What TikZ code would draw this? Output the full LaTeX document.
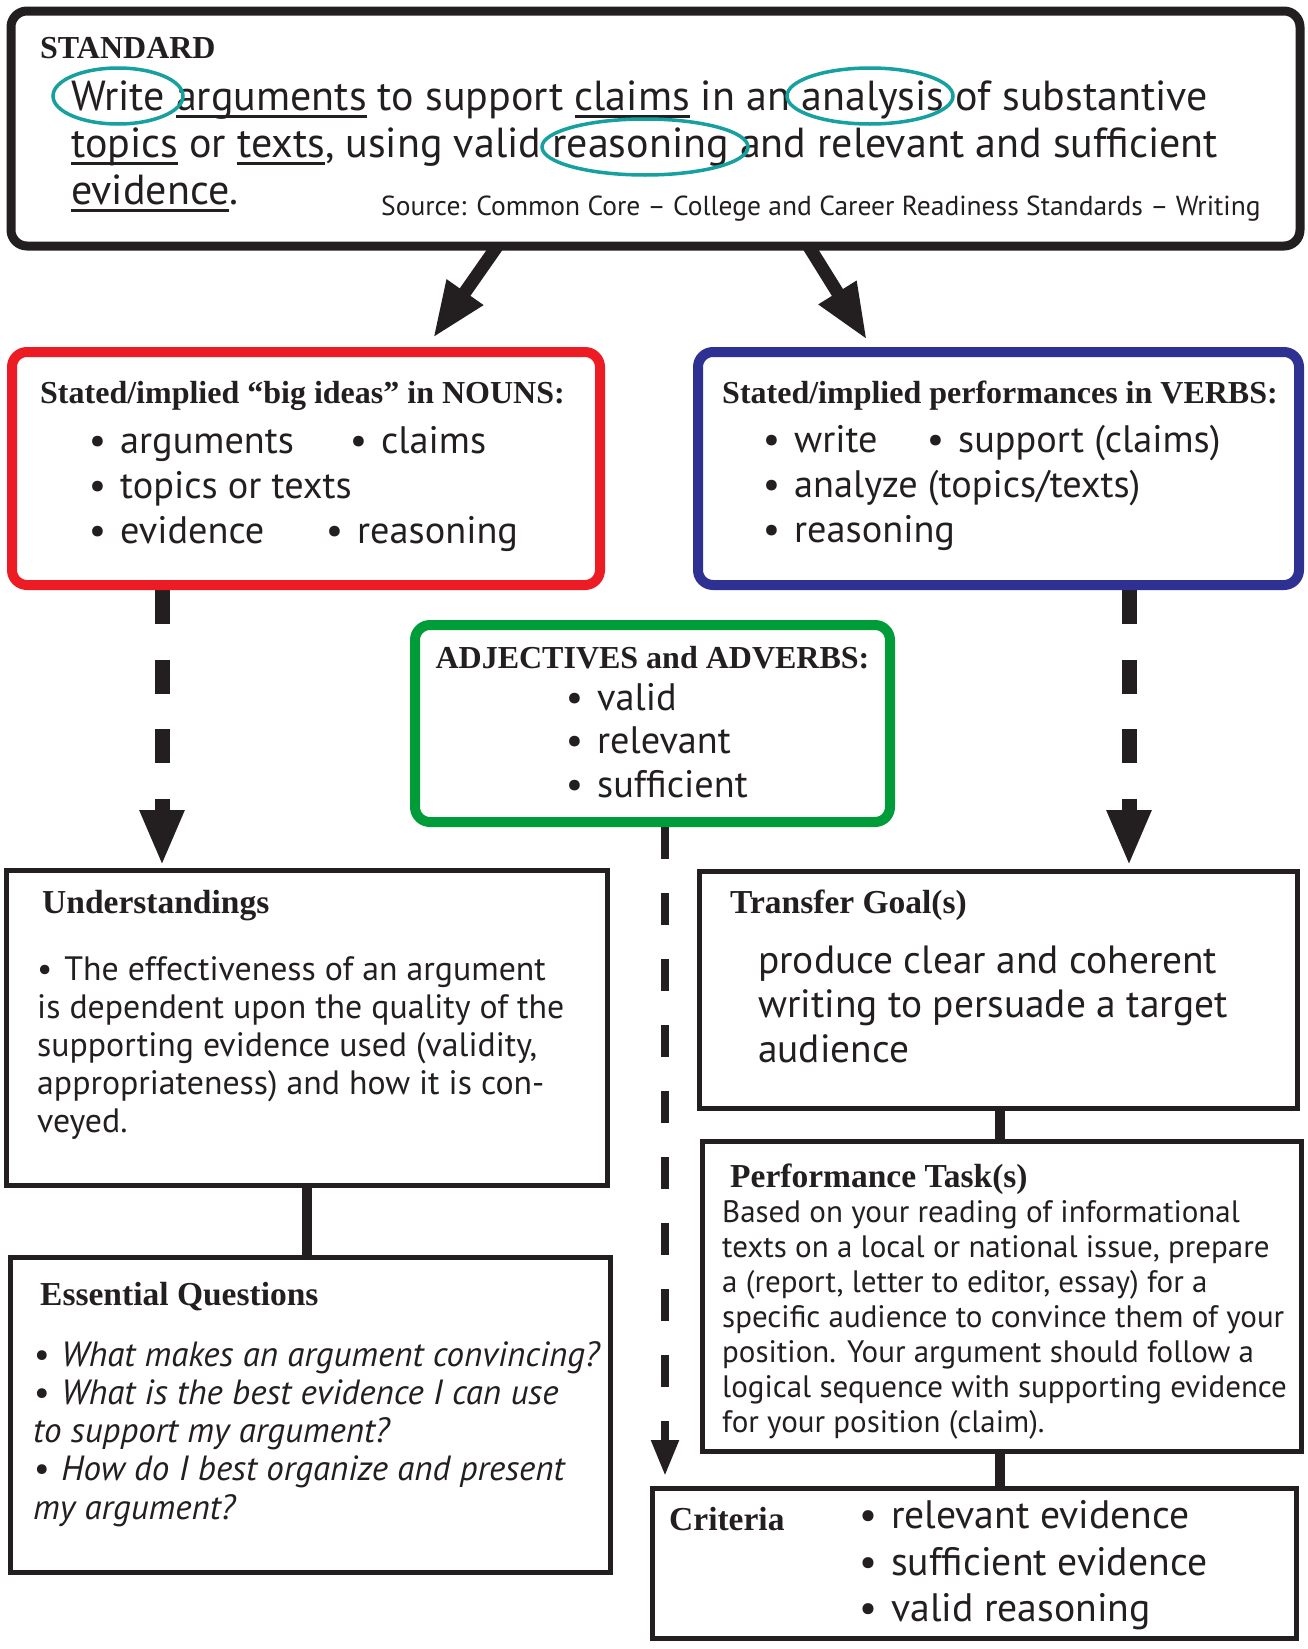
\documentclass[tikz,border=0pt]{standalone}
\usepackage{fontspec}
\setmainfont{PT Sans}
\newfontfamily\headfont{Liberation Serif}
\usetikzlibrary{arrows.meta}
\pgfdeclarelayer{background}
\pgfsetlayers{background,main}

\definecolor{ink}{RGB}{35,31,32}
\definecolor{nounred}{RGB}{237,28,36}
\definecolor{verbblue}{RGB}{46,49,146}
\definecolor{adjgreen}{RGB}{0,156,58}
\definecolor{markteal}{RGB}{22,160,160}

% font size in pt, with the same baseline skip
\newcommand\fs[1]{\fontsize{#1}{#1}\selectfont}
% thick underline below a word
\newcommand\ulw[1]{\setbox0=\hbox{#1}\rlap{\rule[-8pt]{\wd0}{3.2pt}}\box0\relax}
% hanging bullet left of the item text
\newcommand\bl{\llap{\textbullet\hspace{14pt}}}

\tikzset{
  txt/.style={inner sep=0pt, anchor=base west, text=ink},
  head/.style={txt, font=\headfont\bfseries\fs{32}},
  subhead/.style={txt, font=\headfont\bfseries\fs{33.5}},
  stdtext/.style={txt, font=\fs{42}},
  srctext/.style={txt, font=\fs{27.5}},
  itemtext/.style={txt, font=\fs{38.3}},
  undtext/.style={txt, font=\fs{33.8}},
  eqtext/.style={txt, font=\itshape\fs{35}},
  goaltext/.style={txt, font=\fs{39.4}},
  tasktext/.style={txt, font=\fs{31}},
  crittext/.style={txt, font=\fs{39.7}},
  framebox/.style={draw=ink, fill=white, inner sep=0pt},
  roundbox/.style={framebox, rounded corners=15pt, line width=10pt},
  plainbox/.style={framebox, line width=5pt},
  bigarrow/.style={draw=ink, line width=13pt, -{Triangle[length=56pt,width=41pt]}},
  bigdash/.style={draw=ink, line width=15pt, dash pattern=on 34pt off 35.5pt,
    -{Triangle[length=56pt,width=41pt]}},
  thindash/.style={draw=ink, line width=8pt, dash pattern=on 32pt off 34pt,
    -{Triangle[length=36pt,width=26pt]}},
  link/.style={draw=ink, line width=10pt},
  ring/.style={draw=markteal, line width=3.5pt},
}

\begin{document}
\begin{tikzpicture}[x=1pt, y=-1pt]
\useasboundingbox (0,0) rectangle (1307,1649);

% ---------- frames ----------
\node[framebox, rounded corners=16pt, line width=9pt,
      minimum width=1289pt, minimum height=235pt] (std) at (655.5,128.5) {};
\node[roundbox, draw=nounred, minimum width=588pt, minimum height=233pt] (nouns) at (306,468.5) {};
\node[roundbox, draw=verbblue, minimum width=601pt, minimum height=233pt] (verbs) at (998.5,468.5) {};
\node[roundbox, draw=adjgreen, minimum width=475pt, minimum height=197pt] (adj) at (652.5,723.5) {};
\node[plainbox, minimum width=601pt, minimum height=315pt] (und) at (306.5,1027.5) {};
\node[plainbox, minimum width=600pt, minimum height=315pt] (eq) at (310,1414.5) {};
\node[plainbox, minimum width=598pt, minimum height=237pt] (goal) at (998,989.5) {};
\node[plainbox, minimum width=599pt, minimum height=310pt] (task) at (1001.5,1296) {};
\node[plainbox, minimum width=644pt, minimum height=150pt] (crit) at (974,1563) {};

% ---------- connectors ----------
\coordinate (aLs) at (498.7,244);
\coordinate (aLe) at (433,338);
\coordinate (aRs) at (807.3,244);
\coordinate (aRe) at (867,340);
\coordinate (dL) at (162,866);
\coordinate (dR) at (1129,866);
\coordinate (dM) at (665,1476);
\coordinate (lEq) at (307,0);
\coordinate (lTask) at (1000,0);
\begin{pgfonlayer}{background}
  \draw[bigarrow] (aLs) -- (aLe);
  \draw[bigarrow] (aRs) -- (aRe);
  \draw[bigdash] (nouns.south -| dL) -- (dL);
  \draw[bigdash] (verbs.south -| dR) -- (dR);
  \draw[thindash] (adj.south -| dM) -- (dM);
  \draw[link] (und.south -| lEq) -- (eq.north -| lEq);
  \draw[link] (goal.south -| lTask) -- (task.north -| lTask);
  \draw[link] (task.south -| lTask) -- (crit.north -| lTask);
\end{pgfonlayer}

% ---------- standard ----------
\node[head] (stdhead) at (40,58) {STANDARD};
\node[stdtext] (std1) at (71,110) {Write \ulw{arguments} to support \ulw{claims} in an analysis of substantive};
\node[stdtext] (std2) at (71,157) {\ulw{topics} or \ulw{texts}, using valid reasoning and relevant and sufficient};
\node[stdtext] (std3) at (71,204) {\ulw{evidence}.};
\node[srctext] (src) at (381,215) {Source: Common Core – College and Career Readiness Standards – Writing};
\draw[ring] (118,96) ellipse [x radius=65, y radius=28];
\draw[ring] (870,96) ellipse [x radius=83, y radius=28];
\draw[ring] (645,147) ellipse [x radius=103, y radius=28];

% ---------- nouns ----------
\node[head] (nounhead) at (40,403) {Stated/implied “big ideas” in NOUNS:};
\node[itemtext] (n1) at (120,453) {\bl arguments};
\node[itemtext] (n2) at (381,453) {\bl claims};
\node[itemtext] (n3) at (120,498) {\bl topics or texts};
\node[itemtext] (n4) at (120,543) {\bl evidence};
\node[itemtext] (n5) at (357,543) {\bl reasoning};

% ---------- verbs ----------
\node[head] (verbhead) at (722,403) {Stated/implied performances in VERBS:};
\node[itemtext] (v1) at (794,452) {\bl write};
\node[itemtext] (v2) at (958,452) {\bl support (claims)};
\node[itemtext] (v3) at (794,497) {\bl analyze (topics/texts)};
\node[itemtext] (v4) at (794,542) {\bl reasoning};

% ---------- adjectives ----------
\node[head, anchor=base] (adjhead) at (652.5,668) {ADJECTIVES and ADVERBS:};
\node[itemtext] (j1) at (597,710) {\bl valid};
\node[itemtext] (j2) at (597,753) {\bl relevant};
\node[itemtext] (j3) at (597,797) {\bl sufficient};

% ---------- understandings ----------
\node[subhead] (undhead) at (42,913) {Understandings};
\foreach \tline [count=\i] in {
  {\textbullet\hspace{0.35em}The effectiveness of an argument},
  {is dependent upon the quality of the},
  {supporting evidence used (validity,},
  {appropriateness) and how it is con-},
  {veyed.}}
  \node[undtext] (und\i) at (37,{980+38.2*(\i-1)}) {\tline};

% ---------- essential questions ----------
\node[subhead] (eqhead) at (40,1305) {Essential Questions};
\foreach \tline [count=\i] in {
  {\textbullet\hspace{0.35em}What makes an argument convincing?},
  {\textbullet\hspace{0.35em}What is the best evidence I can use},
  {to support my argument?},
  {\textbullet\hspace{0.35em}How do I best organize and present},
  {my argument?}}
  \node[eqtext] (eq\i) at (33,{1366+38.3*(\i-1)}) {\tline};

% ---------- transfer goal ----------
\node[subhead] (goalhead) at (730,913) {Transfer Goal(s)};
\foreach \tline [count=\i] in {
  {produce clear and coherent},
  {writing to persuade a target},
  {audience}}
  \node[goaltext] (goal\i) at (758,{973+44.8*(\i-1)}) {\tline};

% ---------- performance task ----------
\node[subhead] (taskhead) at (730,1187) {Performance Task(s)};
\foreach \tline [count=\i] in {
  {Based on your reading of informational},
  {texts on a local or national issue, prepare},
  {a (report, letter to editor, essay) for a},
  {specific audience to convince them of your},
  {position. Your argument should follow a},
  {logical sequence with supporting evidence},
  {for your position (claim).}}
  \node[tasktext] (task\i) at (722,{1222+35*(\i-1)}) {\tline};

% ---------- criteria ----------
\node[subhead] (crithead) at (669,1530) {Criteria};
\node[crittext] (c1) at (891,1528) {\bl relevant evidence};
\node[crittext] (c2) at (891,1575) {\bl sufficient evidence};
\node[crittext] (c3) at (891,1621) {\bl valid reasoning};

\end{tikzpicture}
\end{document}
